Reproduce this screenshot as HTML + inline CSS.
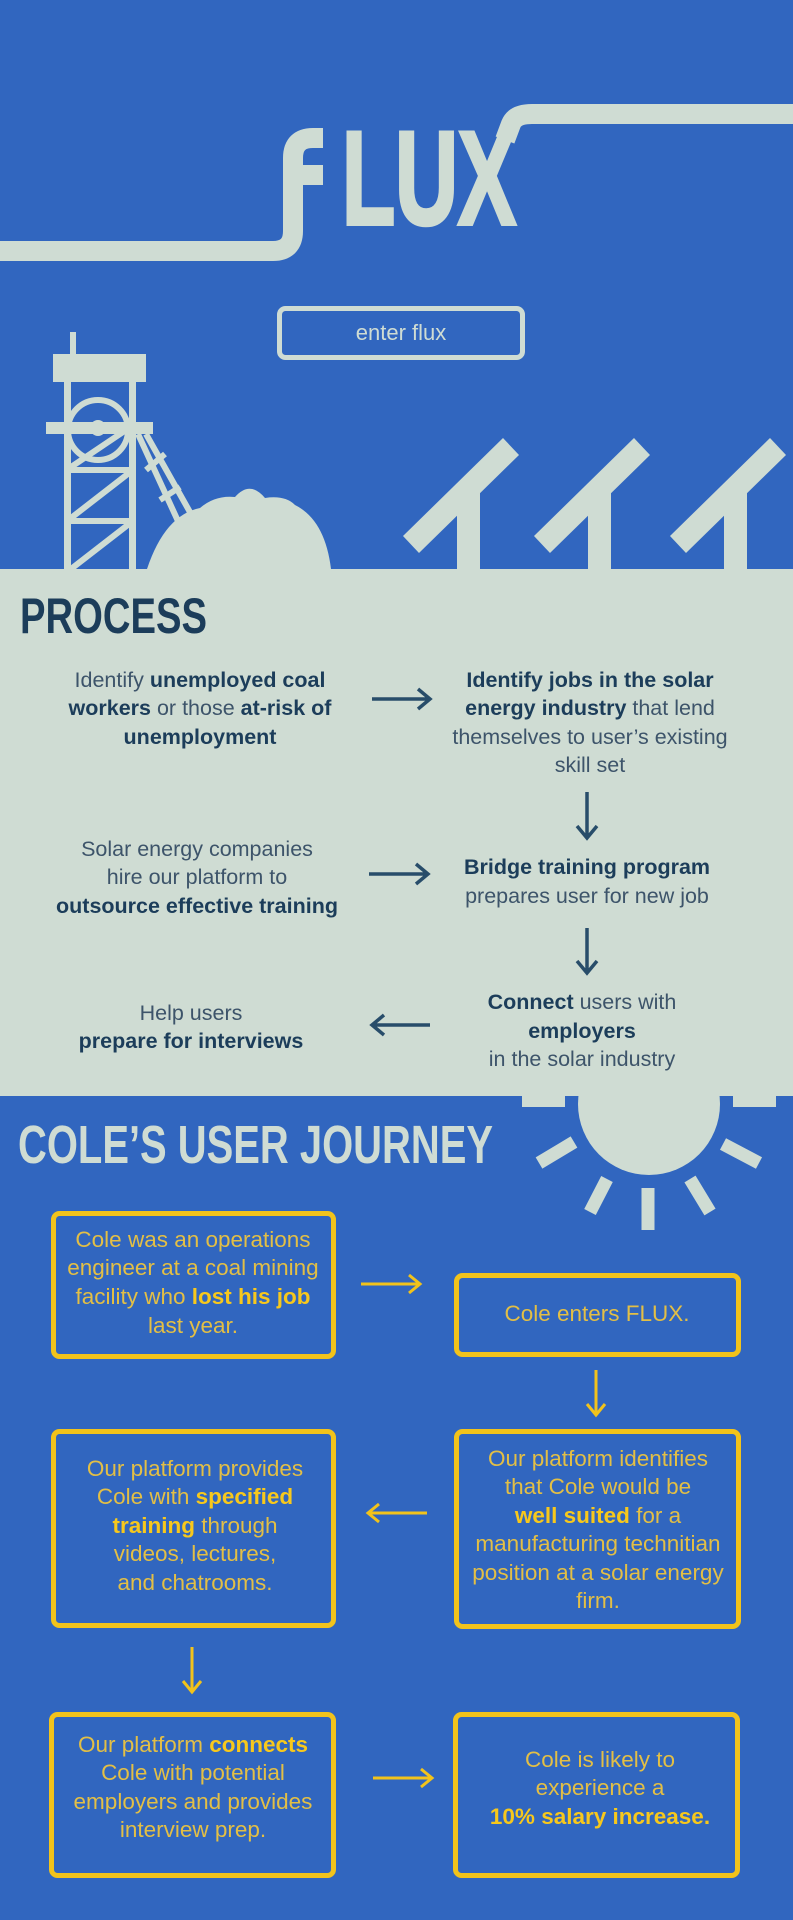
<!DOCTYPE html>
<html><head><meta charset="utf-8"><style>
html,body{margin:0;padding:0;background:#3166bf;}
svg{display:block}
</style></head><body>
<svg width="793" height="1920" viewBox="0 0 793 1920" xmlns="http://www.w3.org/2000/svg">
<rect width="793" height="1920" fill="#3166bf"/>
<!-- pipe + F -->
<g fill="none" stroke="#cfdcd3" stroke-width="20">
<path d="M0,251 H273 Q293,251 293,231 V158 Q293,138 313,138 H323"/>
<path d="M505,140 L511,124 Q515,114 532,114 H793"/>
</g>
<rect x="303" y="165" width="20" height="20" fill="#cfdcd3"/>
<text x="342" y="224" font-family="'Liberation Sans Narrow','Liberation Sans',sans-serif" font-weight="bold" font-size="133" fill="#cfdcd3" stroke="#cfdcd3" stroke-width="4" textLength="174" lengthAdjust="spacingAndGlyphs">LUX</text>
<!-- button -->
<rect x="279.5" y="308.5" width="243" height="49" rx="6" fill="none" stroke="#cfdcd3" stroke-width="5"/>
<text x="401" y="340" text-anchor="middle" font-family="'Liberation Sans',sans-serif" font-size="22" fill="#cfdcd3">enter flux</text>
<!-- tower -->
<g fill="#cfdcd3">
<rect x="70" y="332" width="6" height="24"/>
<rect x="53" y="354" width="93" height="28"/>
<rect x="64" y="382" width="7" height="187"/>
<rect x="129" y="382" width="7" height="187"/>
<rect x="46" y="422" width="107" height="12"/>
<rect x="71" y="467" width="58" height="6"/>
<rect x="71" y="518" width="58" height="6"/>
<circle cx="98" cy="428" r="8"/>
</g>
<g stroke="#cfdcd3" fill="none">
<circle cx="98" cy="430" r="30" stroke-width="6"/>
<path d="M71,467 L129,428 M71,518 L129,473 M71,569 L129,524" stroke-width="6"/>
<path d="M138,434 L200,569 M146,434 L222,569" stroke-width="6"/>
<path d="M146,470 L165,454 M160,500 L180,487 M175,530 L195,517 M188,556 L207,545" stroke-width="6"/>
</g>
<path d="M147,569 Q165,515 200,508 Q215,495 235,497 Q250,480 265,498 Q285,495 295,505 Q325,520 331,569 Z" fill="#cfdcd3"/>
<!-- solar panels -->
<g fill="#cfdcd3">
<g id="p"><polygon points="403,536 503,438 519,455 419,553"/><rect x="457" y="490" width="23" height="80"/></g>
<use href="#p" x="131"/>
<use href="#p" x="267"/>
</g>
<!-- sun (behind section) -->
<circle cx="649" cy="1104" r="71" fill="#cfdcd3"/>
<rect x="522" y="1096" width="43" height="11" fill="#cfdcd3"/>
<rect x="733" y="1096" width="43" height="11" fill="#cfdcd3"/>
<g stroke="#cfdcd3" stroke-width="13">
<path d="M539,1163 L574,1142 M590,1212 L607,1179 M648,1188 V1230 M690,1179 L710,1212 M723,1144 L759,1163"/>
</g>
<!-- process section -->
<rect x="0" y="569" width="793" height="527" fill="#cfdcd3"/>
<text x="20" y="633" font-family="'Liberation Sans Narrow','Liberation Sans',sans-serif" font-weight="bold" font-size="50" fill="#1c3d5a" textLength="187" lengthAdjust="spacingAndGlyphs">PROCESS</text>
<g font-family="'Liberation Sans',sans-serif" font-size="21.5" text-anchor="middle" fill="#3d546a">
<text x="200" y="687">Identify <tspan fill="#1c3d5a" font-weight="bold">unemployed coal</tspan></text>
<text x="200" y="715"><tspan fill="#1c3d5a" font-weight="bold">workers</tspan> or those <tspan fill="#1c3d5a" font-weight="bold">at-risk of</tspan></text>
<text x="200" y="744" fill="#1c3d5a" font-weight="bold">unemployment</text>
<text x="590" y="687" fill="#1c3d5a" font-weight="bold">Identify jobs in the solar</text>
<text x="590" y="715"><tspan fill="#1c3d5a" font-weight="bold">energy industry</tspan> that lend</text>
<text x="590" y="744">themselves to user’s existing</text>
<text x="590" y="772">skill set</text>
<text x="197" y="856">Solar energy companies</text>
<text x="197" y="884">hire our platform to</text>
<text x="197" y="913" fill="#1c3d5a" font-weight="bold">outsource effective training</text>
<text x="587" y="874" fill="#1c3d5a" font-weight="bold">Bridge training program</text>
<text x="587" y="903">prepares user for new job</text>
<text x="582" y="1009"><tspan fill="#1c3d5a" font-weight="bold">Connect</tspan> users with</text>
<text x="582" y="1038" fill="#1c3d5a" font-weight="bold">employers</text>
<text x="582" y="1066">in the solar industry</text>
<text x="191" y="1020">Help users</text>
<text x="191" y="1048" fill="#1c3d5a" font-weight="bold">prepare for interviews</text>
</g>
<g stroke="#284d6a" stroke-width="3.5" fill="none">
<path d="M372,699 H428 M418,689 L430,699 L418,709"/>
<path d="M369,874 H426 M416,864 L428,874 L416,884"/>
<path d="M587,792 V836 M577,826 L587,838 L597,826"/>
<path d="M587,928 V971 M577,961 L587,973 L597,961"/>
<path d="M430,1025 H374 M384,1015 L372,1025 L384,1035"/>
</g>
<text x="18" y="1163" font-family="'Liberation Sans Narrow','Liberation Sans',sans-serif" font-weight="bold" font-size="54" fill="#cfdcd3" textLength="475" lengthAdjust="spacingAndGlyphs">COLE’S USER JOURNEY</text>
<!-- boxes -->
<g fill="none" stroke="#f2c31b" stroke-width="5">
<rect x="53.5" y="1213.5" width="280" height="143" rx="6"/>
<rect x="456.5" y="1275.5" width="282" height="79" rx="6"/>
<rect x="53.5" y="1431.5" width="280" height="194" rx="6"/>
<rect x="456.5" y="1431.5" width="282" height="195" rx="6"/>
<rect x="51.5" y="1714.5" width="282" height="161" rx="6"/>
<rect x="455.5" y="1714.5" width="282" height="161" rx="6"/>
</g>
<g font-family="'Liberation Sans',sans-serif" font-size="22.5" text-anchor="middle" fill="#e3bf45">
<text x="193" y="1247">Cole was an operations</text>
<text x="193" y="1275">engineer at a coal mining</text>
<text x="193" y="1304">facility who <tspan fill="#f7c81c" font-weight="bold">lost his job</tspan></text>
<text x="193" y="1333">last year.</text>
<text x="597" y="1321">Cole enters FLUX.</text>
<text x="195" y="1476">Our platform provides</text>
<text x="195" y="1504">Cole with <tspan fill="#f7c81c" font-weight="bold">specified</tspan></text>
<text x="195" y="1533"><tspan fill="#f7c81c" font-weight="bold">training</tspan> through</text>
<text x="195" y="1561">videos, lectures,</text>
<text x="195" y="1590">and chatrooms.</text>
<text x="598" y="1466">Our platform identifies</text>
<text x="598" y="1494">that Cole would be</text>
<text x="598" y="1523"><tspan fill="#f7c81c" font-weight="bold">well suited</tspan> for a</text>
<text x="598" y="1551">manufacturing technitian</text>
<text x="598" y="1580">position at a solar energy</text>
<text x="598" y="1608">firm.</text>
<text x="193" y="1752">Our platform <tspan fill="#f7c81c" font-weight="bold">connects</tspan></text>
<text x="193" y="1780">Cole with potential</text>
<text x="193" y="1809">employers and provides</text>
<text x="193" y="1837">interview prep.</text>
<text x="600" y="1767">Cole is likely to</text>
<text x="600" y="1795">experience a</text>
<text x="600" y="1824" fill="#f7c81c" font-weight="bold">10% salary increase.</text>
</g>
<g stroke="#f2c31b" stroke-width="3" fill="none">
<path d="M361,1284 H418 M409,1275 L420,1284 L409,1293"/>
<path d="M596,1370 V1413 M587,1404 L596,1415 L605,1404"/>
<path d="M427,1513 H370 M379,1504 L368,1513 L379,1522"/>
<path d="M192,1647 V1690 M183,1681 L192,1692 L201,1681"/>
<path d="M373,1778 H430 M421,1769 L432,1778 L421,1787"/>
</g>
</svg>
</body></html>
